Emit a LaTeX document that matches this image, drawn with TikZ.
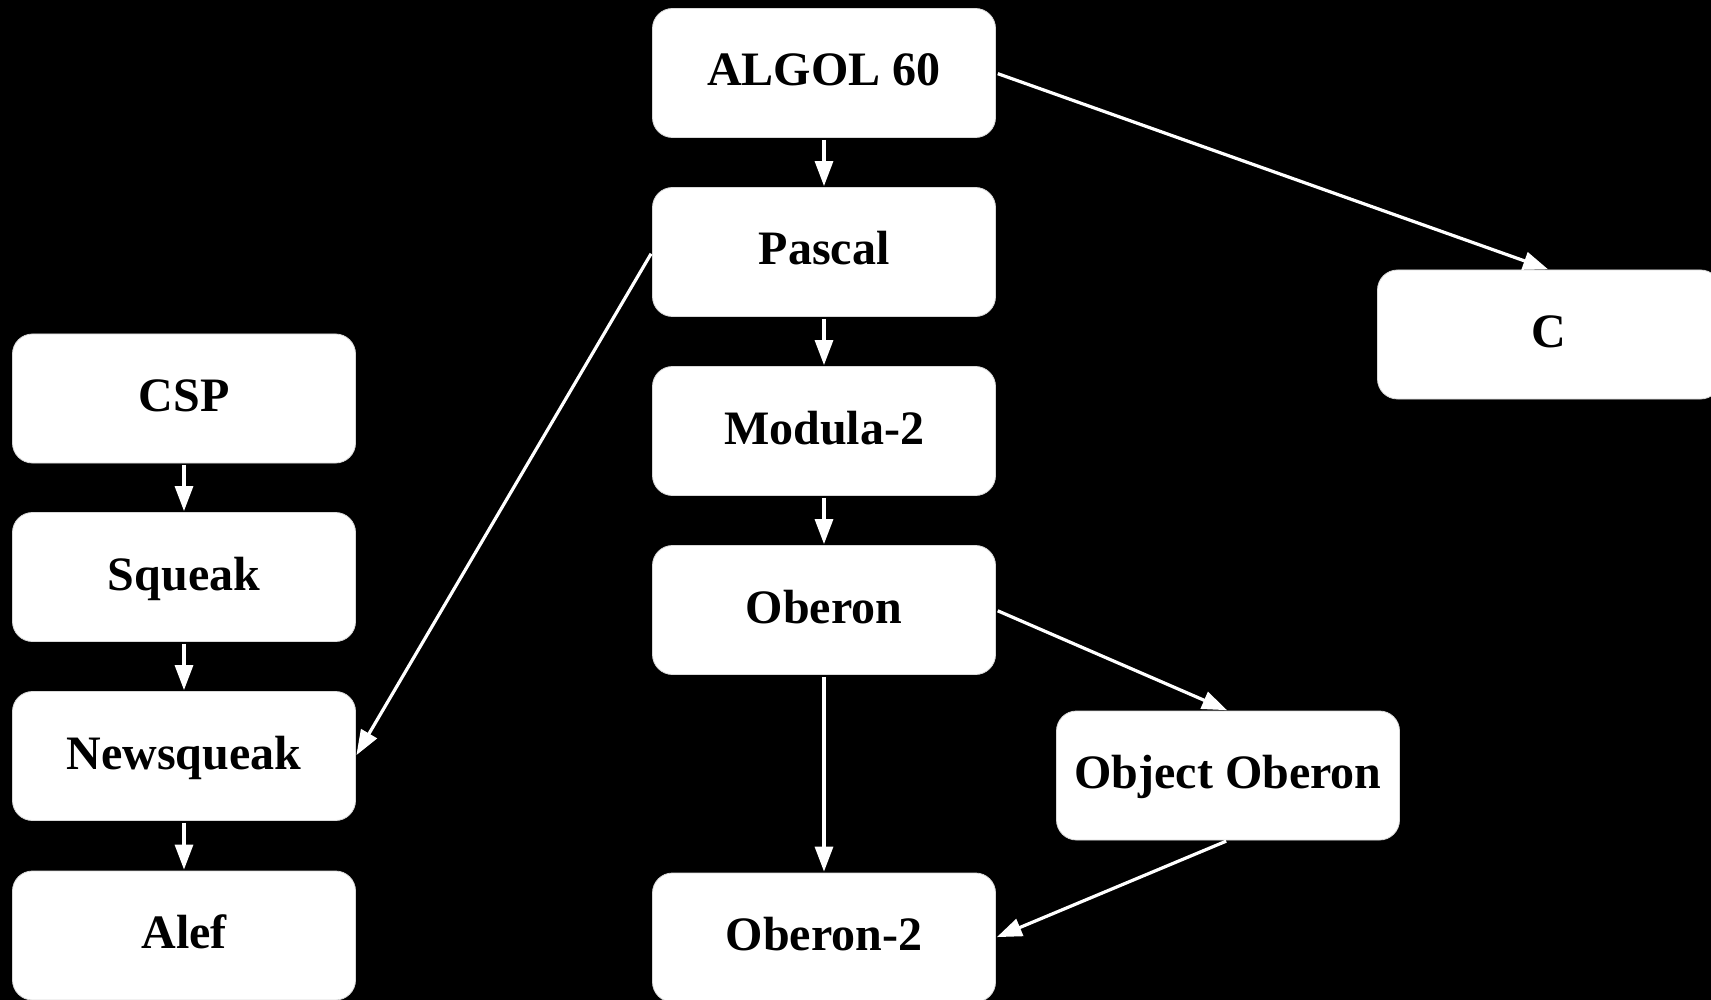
\documentclass[tikz,border=0pt]{standalone}
\usepackage{fontspec}
\setmainfont{Liberation Serif}
\usetikzlibrary{arrows.meta}
\begin{document}
\begin{tikzpicture}[x=1pt,y=-1pt,
  lang/.style={draw=white!85!black, line width=0.8pt, fill=white, rounded corners=20pt,
    minimum width=343pt, minimum height=129pt, inner sep=0pt,
    text height=32pt, text depth=6pt,
    font=\fontsize{48}{56}\selectfont\bfseries, text=black},
  link/.style={draw=white, line width=3.2pt, shorten <=2pt, shorten >=1pt,
    -{Triangle[length=25pt,width=18pt]}}]
  % canvas
  \fill[black] (0,0) rectangle (1711,1000);
  \useasboundingbox (0,0) rectangle (1711,1000);
  \clip (0,0) rectangle (1711,1000);

  % main line: ALGOL to Oberon-2
  \node[lang] (algol)   at (824,73)    {ALGOL 60};
  \node[lang] (pascal)  at (824,252)   {Pascal};
  \node[lang] (modula)  at (824,431)   {Modula-2};
  \node[lang] (oberon)  at (824,610)   {Oberon};
  \node[lang] (oberon2) at (824,937.5) {Oberon-2};
  \node[lang] (objob)   at (1228,775.5) {Object Oberon};
  \node[lang] (c)       at (1549,334.5) {C};

  % concurrency line: CSP to Alef
  \node[lang] (csp)       at (184,398.5) {CSP};
  \node[lang] (squeak)    at (184,577)   {Squeak};
  \node[lang] (newsqueak) at (184,756)   {Newsqueak};
  \node[lang] (alef)      at (184,935.5) {Alef};

  % influences
  \draw[link] (algol.south) -- (pascal.north);
  \draw[link] (pascal.south) -- (modula.north);
  \draw[link] (modula.south) -- (oberon.north);
  \draw[link] (oberon.south) -- (oberon2.north);
  \draw[link] (algol.east) -- (c.north);
  \draw[link] (oberon.east) -- (objob.north);
  \draw[link] (objob.south) -- (oberon2.east);
  \draw[link] (pascal.west) -- (newsqueak.east);
  \draw[link] (csp.south) -- (squeak.north);
  \draw[link] (squeak.south) -- (newsqueak.north);
  \draw[link] (newsqueak.south) -- (alef.north);
\end{tikzpicture}
\end{document}
